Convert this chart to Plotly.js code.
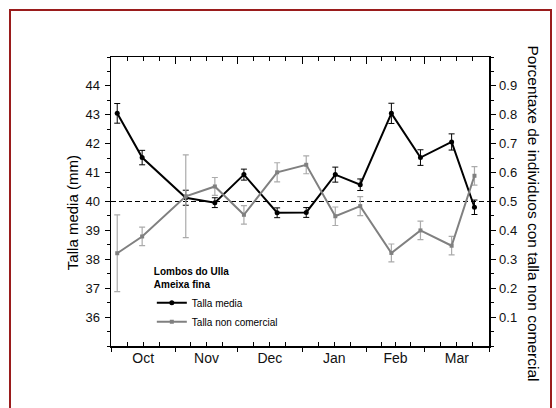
<!DOCTYPE html>
<html>
<head>
<meta charset="utf-8">
<script src="https://cdn.plot.ly/plotly-3.0.1.min.js"></script>
<style>
  html, body { margin: 0; padding: 0; overflow: hidden; background: #fff; }
  #wrap { position: relative; width: 556px; height: 408px; overflow: hidden; }
  #chart { width: 556px; height: 408px; }
  #frame { position: absolute; left: 9px; top: 9px; width: 543px; height: 412px;
           border: 2px solid #9a1c1c; box-sizing: border-box; pointer-events: none; }
</style>
</head>
<body>
<div id="wrap">
  <div id="chart"></div>
  <div id="frame"></div>
</div>
<script>
// ---- data ----
const monthLabels = ['Oct', 'Nov', 'Dec', 'Jan', 'Feb', 'Mar'];
const monthStarts = ['2009-10-01', '2009-11-01', '2009-12-01', '2010-01-01', '2010-02-01', '2010-03-01', '2010-04-01'];
const sampleDates = ['2009-10-04', '2009-10-16', '2009-11-06', '2009-11-20', '2009-12-04', '2009-12-20',
                     '2010-01-03', '2010-01-17', '2010-01-29', '2010-02-13', '2010-02-27', '2010-03-14', '2010-03-25'];
const tallaMedia    = [43.05, 41.52, 40.13, 39.96, 40.93, 39.61, 39.62, 40.93, 40.58, 43.05, 41.52, 42.06, 39.80];
const tallaMediaErr = [0.34, 0.25, 0.26, 0.17, 0.19, 0.17, 0.17, 0.26, 0.20, 0.35, 0.27, 0.28, 0.25];
const nonComercial    = [0.321, 0.379, 0.518, 0.552, 0.454, 0.601, 0.627, 0.449, 0.484, 0.322, 0.400, 0.347, 0.589];
const nonComercialErr = [0.133, 0.032, 0.143, 0.031, 0.032, 0.033, 0.031, 0.032, 0.033, 0.031, 0.032, 0.032, 0.032];
const leftTicks  = [36, 37, 38, 39, 40, 41, 42, 43, 44];
const rightTicks = [0.1, 0.2, 0.3, 0.4, 0.5, 0.6, 0.7, 0.8, 0.9];
const refLevel = 0.5;
const leftTitle  = 'Talla media (mm)';
const rightTitle = 'Porcentaxe de individuos con talla non comercial';
const legendTitle = ['Lombos do Ulla', 'Ameixa fina'];
const seriesNames = ['Talla media', 'Talla non comercial'];

// ---- derived tick positions (month starts, mid-months, quarter months) ----
const FONT = 'Arial, "Liberation Sans", sans-serif';
const toMs = s => Date.parse(s + 'T00:00:00Z');
const fmt = t => new Date(t).toISOString().slice(0, 19).replace('T', ' ');
const mids = [], quarters = [];
for (let i = 0; i < monthLabels.length; i++) {
  const a = toMs(monthStarts[i]), b = toMs(monthStarts[i + 1]);
  mids.push(fmt(a + (b - a) * 0.5));
  quarters.push(fmt(a + (b - a) * 0.25), fmt(a + (b - a) * 0.75));
}
const xRange = [monthStarts[0], monthStarts[monthStarts.length - 1]];

const traces = [
  {
    x: sampleDates, y: nonComercial, yaxis: 'y2', type: 'scatter', mode: 'lines+markers',
    name: seriesNames[1], legendrank: 2,
    line: { color: '#808080', width: 2 },
    marker: { symbol: 'square', size: 4, color: '#808080' },
    error_y: { type: 'data', array: nonComercialErr, visible: true, color: '#ababab', thickness: 1.2, width: 3 },
    hoverinfo: 'x+y'
  },
  {
    x: sampleDates, y: tallaMedia, type: 'scatter', mode: 'lines+markers',
    name: seriesNames[0], legendrank: 1,
    line: { color: '#000000', width: 2 },
    marker: { symbol: 'circle', size: 5, color: '#000000' },
    error_y: { type: 'data', array: tallaMediaErr, visible: true, color: '#000000', thickness: 1, width: 3 },
    hoverinfo: 'x+y'
  },
  { x: [], y: [], xaxis: 'x3', type: 'scatter', mode: 'lines', showlegend: false, hoverinfo: 'skip' },
  { x: [], y: [], xaxis: 'x4', type: 'scatter', mode: 'lines', showlegend: false, hoverinfo: 'skip' }
];

const axisCommon = { showgrid: false, zeroline: false, fixedrange: true };

const layout = {
  width: 556, height: 408,
  margin: { l: 111, r: 67, t: 57, b: 62, pad: 0 },
  paper_bgcolor: 'rgba(0,0,0,0)', plot_bgcolor: '#ffffff',
  font: { family: FONT, color: '#000' },
  showlegend: true,
  xaxis: Object.assign({}, axisCommon, {
    type: 'date', range: xRange, tickmode: 'array', tickvals: mids, ticktext: monthLabels,
    ticks: 'inside', ticklen: 4, tickwidth: 1, tickcolor: '#000',
    showline: true, linecolor: '#000', linewidth: 1.5, mirror: 'ticks',
    tickfont: { size: 14, family: FONT, color: '#111' }, ticklabelstandoff: -1,
    minor: { tickmode: 'array', tickvals: quarters, ticks: 'inside', ticklen: 4, tickwidth: 1, tickcolor: '#000' }
  }),
  xaxis3: Object.assign({}, axisCommon, {
    type: 'date', range: xRange, overlaying: 'x', anchor: 'y', side: 'bottom',
    tickmode: 'array', tickvals: monthStarts, ticks: 'outside', ticklen: 5, tickwidth: 1, tickcolor: '#000',
    showticklabels: false, showline: false
  }),
  xaxis4: Object.assign({}, axisCommon, {
    type: 'date', range: xRange, overlaying: 'x', anchor: 'y', side: 'top',
    tickmode: 'array', tickvals: monthStarts, ticks: 'inside', ticklen: 7, tickwidth: 1, tickcolor: '#000',
    showticklabels: false, showline: false
  }),
  yaxis: Object.assign({}, axisCommon, {
    range: [35, 45], tickmode: 'array', tickvals: leftTicks,
    ticks: 'outside', ticklen: 5, tickwidth: 1, tickcolor: '#000',
    showline: true, linecolor: '#000', linewidth: 1.5,
    tickfont: { size: 13, family: FONT, color: '#111' }, ticklabelstandoff: 2,
    minor: { tick0: 35, dtick: 0.5, ticks: 'outside', ticklen: 3, tickwidth: 1, tickcolor: '#000' }
  }),
  yaxis2: Object.assign({}, axisCommon, {
    range: [0, 1], overlaying: 'y', side: 'right', anchor: 'x', tickmode: 'array', tickvals: rightTicks,
    tickformat: '.1f',
    ticks: 'outside', ticklen: 5, tickwidth: 1, tickcolor: '#000',
    showline: true, linecolor: '#000', linewidth: 1.5,
    tickfont: { size: 13, family: FONT, color: '#111' }, ticklabelstandoff: 1,
    minor: { tick0: 0, dtick: 0.05, ticks: 'outside', ticklen: 3, tickwidth: 1, tickcolor: '#000' }
  }),
  shapes: [{
    type: 'line', xref: 'paper', x0: 0, x1: 1, yref: 'y2', y0: refLevel, y1: refLevel,
    line: { color: '#000', width: 1.2, dash: '5px,3px' }, layer: 'below'
  }],
  legend: {
    x: 0.108, y: 0.29, xanchor: 'left', yanchor: 'top',
    bgcolor: 'rgba(0,0,0,0)', borderwidth: 0,
    font: { size: 10, family: FONT, color: '#000' },
    title: { text: legendTitle.map(t => '<b>' + t + '</b>').join('<br>'), font: { size: 10, family: FONT, color: '#000' } },
    tracegroupgap: 0, itemwidth: 30, traceorder: 'normal'
  },
  annotations: [
    { xref: 'paper', yref: 'paper', x: -0.103, y: 0.46, text: leftTitle, textangle: -90, showarrow: false,
      xanchor: 'center', yanchor: 'middle', font: { size: 15, family: FONT, color: '#000' } },
    { xref: 'paper', yref: 'paper', x: 1.118, y: 0.46, text: rightTitle, textangle: 90, showarrow: false,
      xanchor: 'center', yanchor: 'middle', font: { size: 15.5, family: FONT, color: '#000' } }
  ]
};

Plotly.newPlot('chart', traces, layout, { displayModeBar: false, staticPlot: true });
</script>
</body>
</html>
